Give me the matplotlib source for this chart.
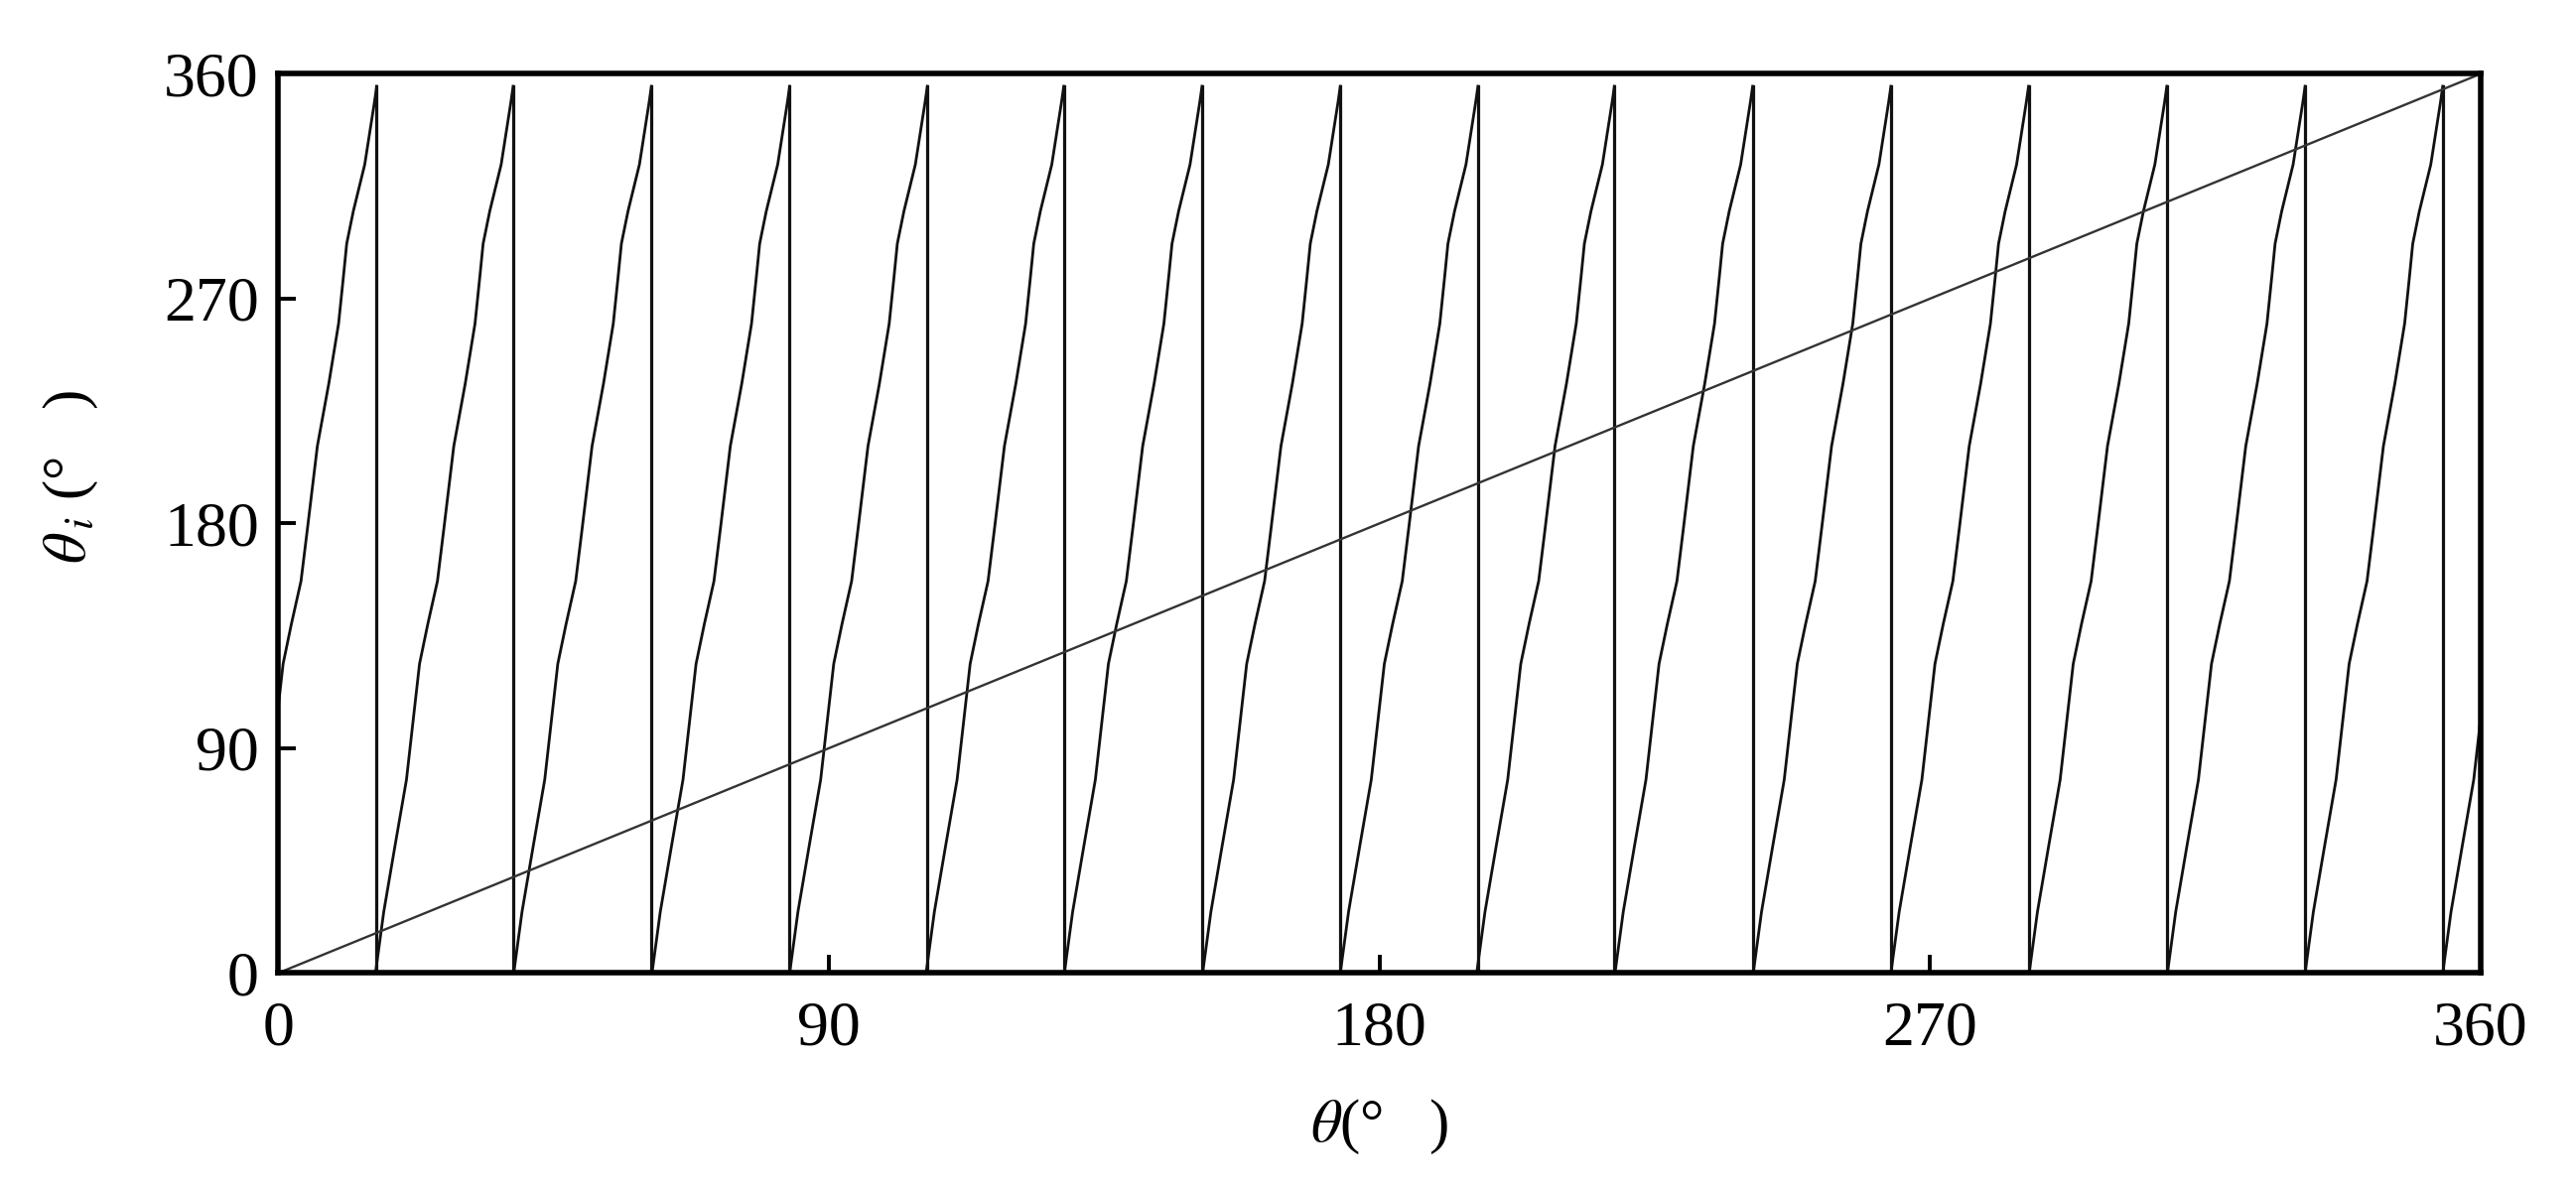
import numpy as np
import matplotlib.pyplot as plt

plt.rcParams['font.family'] = ['Liberation Serif', 'DejaVu Serif']
plt.rcParams['mathtext.fontset'] = 'stix'

# positions (deg) where theta_i drops back to 0
drop_x = [16.1, 38.4, 61.0, 83.6, 106.1, 128.4, 151.0, 173.6,
          196.1, 218.4, 241.0, 263.6, 286.1, 308.7, 331.3, 353.8]
tooth_width = 22.5

# one tooth: fraction of tooth, theta_i value
tooth_frac = [0.0, 0.06, 0.142, 0.225, 0.273, 0.32, 0.38, 0.45, 0.497,
              0.569, 0.652, 0.723, 0.758, 0.782, 0.83, 0.913, 0.984, 1.0]
tooth_val = [0.0, 24.5, 51.0, 77.4, 101.0, 123.8, 139.7, 156.9, 178.0,
             211.0, 236.0, 260.0, 278.7, 292.0, 305.0, 323.7, 348.8, 355.0]

diag_x = [0, 360]
diag_y = [0, 360]

fig = plt.figure(figsize=(25.95, 12), dpi=100)
ax = fig.add_axes([0.108, 0.183, 0.855, 0.755])

# build sawtooth: tooth ending at each drop, plus the one starting at the last drop
ends = drop_x + [drop_x[-1] + tooth_width]
xs, ys = [], []
for e in ends:
    start = e - tooth_width
    xs += [start + f * tooth_width for f in tooth_frac]
    ys += tooth_val
    xs.append(np.nan)
    ys.append(np.nan)
ax.plot(xs, ys, color='#111111', lw=2.0)

# vertical drops
for d in drop_x:
    ax.plot([d, d], [0, tooth_val[-1]], color='#111111', lw=2.3)

ax.plot(diag_x, diag_y, color='#333333', lw=1.7)

ax.set_xlim(0, 360)
ax.set_ylim(0, 360)
ax.set_xticks([0, 90, 180, 270, 360])
ax.set_yticks([0, 90, 180, 270, 360])
ax.tick_params(direction='in', length=13, width=2.8, labelsize=46,
               top=False, right=False)
ax.tick_params(axis='x', pad=20)
ax.tick_params(axis='y', pad=14)
for s in ax.spines.values():
    s.set_linewidth(4.0)

ax.set_xlabel(r'$\theta$(°   )', fontsize=44)
ax.set_ylabel(r'$\theta_{\,i}$ (°   )', fontsize=44)
ax.xaxis.set_label_coords(0.5, -0.138)
ax.yaxis.set_label_coords(-0.081, 0.552)

fig.savefig('out.png', dpi=100)
